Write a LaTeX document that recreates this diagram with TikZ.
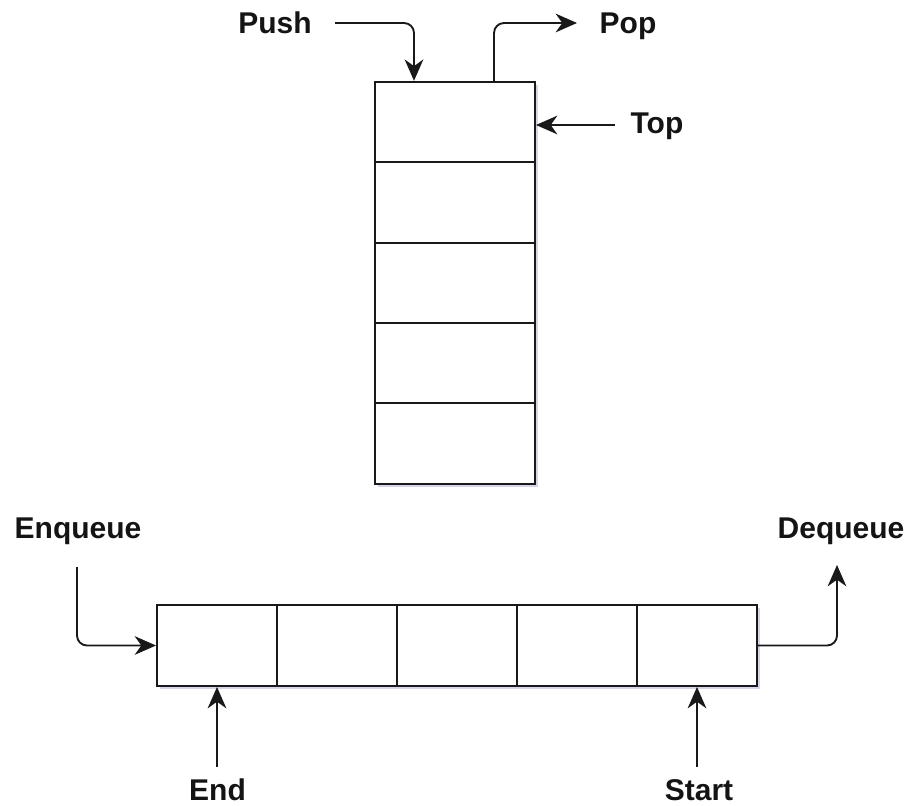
\documentclass[tikz,border=0pt]{standalone}
\usepackage{fontspec}
\setmainfont{Liberation Sans}
\usetikzlibrary{arrows.meta,shadows,calc}
\begin{document}
\begin{tikzpicture}[x=0.75pt,y=-0.75pt,
  cellbase/.style={draw=black!90, line width=1.5pt, fill=white, inner sep=0pt,
    drop shadow={shadow xshift=2.5pt, shadow yshift=-2.5pt, opacity=0.25, fill=blue!30!gray}},
  scell/.style={cellbase, minimum width=120pt, minimum height=60.3pt},
  qcell/.style={cellbase, minimum width=90pt, minimum height=60.75pt},
  lbl/.style={font=\bfseries\fontsize{22.5}{25}\selectfont, inner sep=0pt, anchor=base, text=black!92},
  conn/.style={draw=black!90, line width=1.4pt, rounded corners=7.5pt,
    -{Stealth[length=16pt, width=14pt, inset=5pt]}}
]
\useasboundingbox (0,0) rectangle (910,806);
% stack
\node[scell] (s1) at (455,122) {};
\node[scell] (s2) at (455,202.4) {};
\node[scell] (s3) at (455,282.8) {};
\node[scell] (s4) at (455,363.2) {};
\node[scell] (s5) at (455,443.6) {};
% queue
\node[qcell] (q1) at (217,645.5) {};
\node[qcell] (q2) at (337,645.5) {};
\node[qcell] (q3) at (457,645.5) {};
\node[qcell] (q4) at (577,645.5) {};
\node[qcell] (q5) at (697,645.5) {};
% labels
\node[lbl] (push) at (275,33.3) {Push};
\node[lbl] (pop) at (628,33.3) {Pop};
\node[lbl] (top) at (657,133.3) {Top};
\node[lbl] (enq) at (78,538.3) {Enqueue};
\node[lbl] (deq) at (841,538.3) {Dequeue};
\node[lbl] (endl) at (217.5,800) {End};
\node[lbl] (startl) at (699,800) {Start};
% connector free ends
\coordinate (pushA) at (335,23);
\coordinate (popA) at (577,23);
\coordinate (topA) at (615,125);
\coordinate (enqA) at (77,567);
\coordinate (deqA) at (837,565);
\coordinate (endA) at (217,767);
\coordinate (startA) at (697,767);
% connectors
\draw[conn] (pushA) -| ($(s1.north west)+(40,0)$);
\draw[conn] ($(s1.north west)+(120,0)$) |- (popA);
\draw[conn] (topA) -- (s1.east |- topA);
\draw[conn] (enqA) |- (q1.west);
\draw[conn] (q5.east) -| (deqA);
\draw[conn] (endA) -- (q1.south);
\draw[conn] (startA) -- (q5.south);
\end{tikzpicture}
\end{document}
